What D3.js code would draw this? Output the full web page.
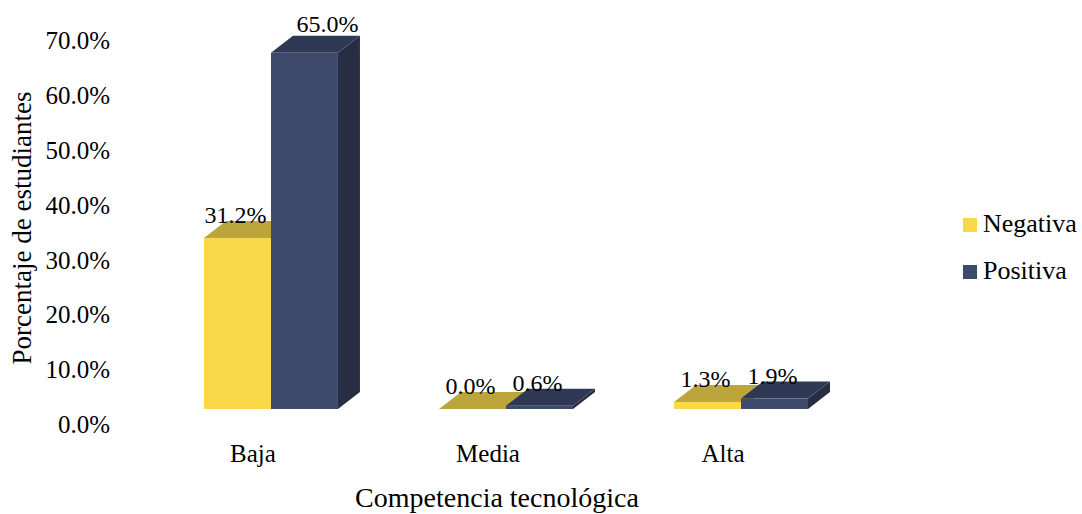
<!DOCTYPE html>
<html>
<head>
<meta charset="utf-8">
<script src="https://cdn.jsdelivr.net/npm/d3@7"></script>
<style>
  html, body { margin: 0; padding: 0; background: #fff; }
  svg text { font-family: "Liberation Serif", "Times New Roman", serif; fill: #000; }
</style>
</head>
<body>
<svg id="chart" width="1082" height="514"></svg>
<script>
// Data
const categories = ["Baja", "Media", "Alta"];
const seriesNames = ["Negativa", "Positiva"];
const negativa = [31.2, 0.0, 1.3];
const positiva = [65.0, 0.6, 1.9];
const yTicks = [0, 10, 20, 30, 40, 50, 60, 70];

// Face colours per series: front, top, side
const palette = {
  Negativa: { front: "#FAD84A", top: "#BCA63B", side: "#9C8A31" },
  Positiva: { front: "#3D4A6C", top: "#2F3854", side: "#272E43" }
};

const svg = d3.select("#chart");

// 3D extrusion depth
const DX = 22, DY = 17;

const y = d3.scaleLinear().domain([0, 70]).range([409, 409 - 70 * 5.48]);
const x = d3.scaleBand().domain(categories).range([204, 808]).paddingInner(0.43).paddingOuter(0);
const xs = d3.scaleBand().domain(seriesNames).range([0, x.bandwidth()]).padding(0);

const rows = categories.map((c, i) => ({
  category: c,
  values: [
    { series: "Negativa", value: negativa[i] },
    { series: "Positiva", value: positiva[i] }
  ]
}));

// Value axis labels (no axis line, labels only)
const yAxis = d3.axisLeft(y).tickValues(yTicks).tickSize(0).tickPadding(0)
  .tickFormat(d => d3.format(".1f")(d) + "%");
const yg = svg.append("g").attr("transform", "translate(110,15)").call(yAxis);
yg.select(".domain").remove();
yg.selectAll("text")
  .attr("font-size", 25)
  .attr("font-family", "Liberation Serif, Times New Roman, serif")
  .attr("fill", "#000")
  .attr("dy", "0.34em");

// Axis titles
svg.append("text")
  .attr("transform", "translate(31,228) rotate(-90)")
  .attr("text-anchor", "middle")
  .attr("font-size", 27)
  .text("Porcentaje de estudiantes");

svg.append("text")
  .attr("x", 497).attr("y", 507)
  .attr("text-anchor", "middle")
  .attr("font-size", 28)
  .text("Competencia tecnológica");

// Category labels
svg.append("g").selectAll("text")
  .data(categories)
  .join("text")
  .attr("x", d => x(d) + x.bandwidth() / 2 - 18)
  .attr("y", 462)
  .attr("text-anchor", "middle")
  .attr("font-size", 25)
  .text(d => d);

// 3D bars
const base = y(0);
const bars = svg.append("g");
rows.forEach(row => {
  const g = bars.append("g");
  row.values.forEach(v => {
    const x0 = x(row.category) + xs(v.series);
    const w = xs.bandwidth();
    const yt = y(v.value);
    const col = palette[v.series];
    // side face
    g.append("polygon")
      .attr("points", [[x0 + w, yt], [x0 + w + DX, yt - DY], [x0 + w + DX, base - DY], [x0 + w, base]].join(" "))
      .attr("fill", col.side);
    // top face
    g.append("polygon")
      .attr("points", [[x0, yt], [x0 + DX, yt - DY], [x0 + w + DX, yt - DY], [x0 + w, yt]].join(" "))
      .attr("fill", col.top);
    // front face
    if (base - yt > 0) {
      g.append("rect")
        .attr("x", x0).attr("y", yt)
        .attr("width", w).attr("height", base - yt)
        .attr("fill", col.front);
    }
  });
});

// Data labels
const maxVal = d3.max(positiva.concat(negativa));
const labels = svg.append("g");
rows.forEach(row => {
  row.values.forEach(v => {
    const x0 = x(row.category) + xs(v.series);
    const w = xs.bandwidth();
    const yt = y(v.value);
    const top = v.value === maxVal;
    labels.append("text")
      .attr("x", top ? x0 + w / 2 + DX + 1 : x0 + w / 2 - 2)
      .attr("y", top ? yt - DY - 4 : yt - 15)
      .attr("text-anchor", "middle")
      .attr("font-size", 24)
      .text(d3.format(".1f")(v.value) + "%");
  });
});

// Legend
const legend = svg.append("g");
seriesNames.forEach((s, i) => {
  const ly = 218 + i * 47;
  legend.append("rect")
    .attr("x", 963).attr("y", ly)
    .attr("width", 14).attr("height", 14)
    .attr("fill", palette[s].front);
  legend.append("text")
    .attr("x", 983).attr("y", ly + 14)
    .attr("font-size", 26)
    .text(s);
});
</script>
</body>
</html>
